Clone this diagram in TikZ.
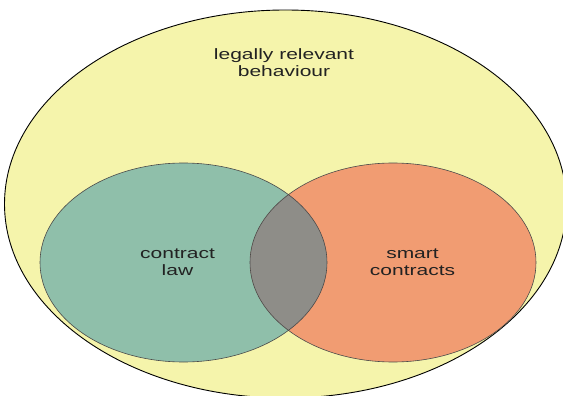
\documentclass[tikz,border=0pt]{standalone}
\usepackage{fontspec}
\usepackage{graphicx}
\setmainfont{Liberation Sans}
\definecolor{outerfill}{HTML}{F5F4AB}
\definecolor{lawfill}{HTML}{8FBFAA}
\definecolor{smartfill}{HTML}{F19C72}
\definecolor{bothfill}{HTML}{8E8D88}
\definecolor{ringline}{HTML}{4A4A4A}
\definecolor{labeltext}{HTML}{222222}
\newcommand{\widetext}[1]{\scalebox{1.4}[1]{#1}}
\tikzset{
  setlabel/.style={text=labeltext, font=\fontsize{15}{17}\selectfont, align=center, inner sep=0pt},
  outerring/.style={fill=outerfill, draw=black, line width=0.9pt},
  innerring/.style={draw=ringline, line width=0.6pt}
}
\begin{document}
\begin{tikzpicture}[x=1pt, y=-1pt]
  \useasboundingbox (0,0) rectangle (563,396);
  \begin{scope}
    \clip (0,0) rectangle (563,396);
    % universe: legally relevant behaviour
    \path[outerring] (285.5,204) ellipse [x radius=281, y radius=194];
    % the two overlapping sets
    \path[fill=lawfill] (183.5,262.5) ellipse [x radius=143.5, y radius=99.5];
    \path[fill=smartfill] (393,262.5) ellipse [x radius=143, y radius=99.5];
    \begin{scope}
      \clip (183.5,262.5) ellipse [x radius=143.5, y radius=99.5];
      \path[fill=bothfill] (393,262.5) ellipse [x radius=143, y radius=99.5];
    \end{scope}
    \path[innerring] (183.5,262.5) ellipse [x radius=143.5, y radius=99.5];
    \path[innerring] (393,262.5) ellipse [x radius=143, y radius=99.5];
  \end{scope}
  % labels
  \node[setlabel] (universe) at (284,63) {\widetext{legally relevant}\\\widetext{behaviour}};
  \node[setlabel] (law) at (177.5,262) {\widetext{contract}\\\widetext{law}};
  \node[setlabel] (smart) at (412.5,262) {\widetext{smart}\\\widetext{contracts}};
\end{tikzpicture}
\end{document}
